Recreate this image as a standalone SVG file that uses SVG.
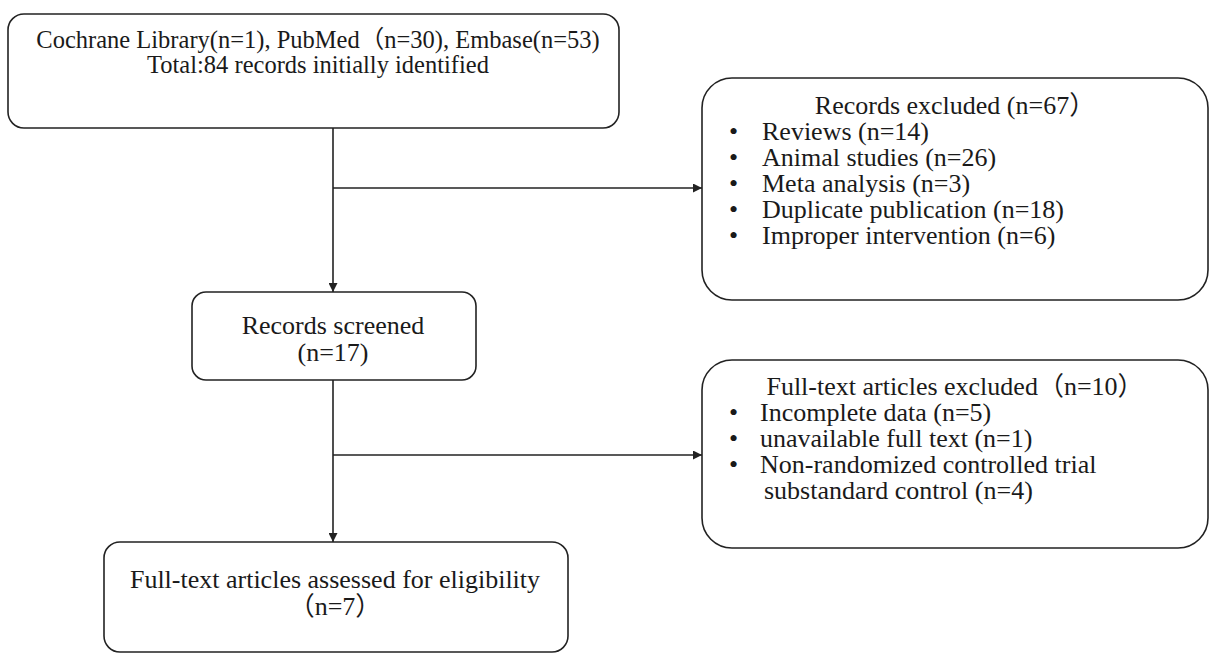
<svg xmlns="http://www.w3.org/2000/svg" width="1210" height="656" viewBox="0 0 1210 656">
<style>
.box{fill:#fff;stroke:#222;stroke-width:1.6}
.t{font-family:"Liberation Serif","Times New Roman","Noto Sans CJK SC",serif;font-size:26px;fill:#1a1a1a}
.s{font-size:24.5px}
.c{text-anchor:middle}
.ln{stroke:#222;stroke-width:1.6;fill:none}
</style>
<defs>
<marker id="ah" viewBox="0 0 10 10" refX="10" refY="5" markerWidth="10" markerHeight="9" markerUnits="userSpaceOnUse" orient="auto">
<path d="M0,0 L10,5 L0,10 Z" fill="#222"/>
</marker>
</defs>
<rect width="1210" height="656" fill="#fff"/>
<g id="connectors">
<line class="ln" x1="333" y1="128" x2="333" y2="292" marker-end="url(#ah)"/>
<line class="ln" x1="333" y1="188" x2="702" y2="188" marker-end="url(#ah)"/>
<line class="ln" x1="333" y1="380" x2="333" y2="542" marker-end="url(#ah)"/>
<line class="ln" x1="333" y1="455" x2="702" y2="455" marker-end="url(#ah)"/>
</g>
<g id="identified">
<rect class="box" x="8" y="14" width="611" height="114" rx="16"/>
<text class="t s c" x="318" y="48">Cochrane Library(n=1), PubMed（n=30), Embase(n=53)</text>
<text class="t s c" x="318" y="73">Total:84 records initially identified</text>
</g>
<g id="excluded1">
<rect class="box" x="702" y="78" width="506" height="222" rx="30"/>
<text class="t c" x="955" y="114">Records excluded (n=67）</text>
<text class="t" x="729" y="140">•</text><text class="t" x="762" y="140">Reviews (n=14)</text>
<text class="t" x="729" y="166">•</text><text class="t" x="762" y="166">Animal studies (n=26)</text>
<text class="t" x="729" y="192">•</text><text class="t" x="762" y="192">Meta analysis (n=3)</text>
<text class="t" x="729" y="218">•</text><text class="t" x="762" y="218">Duplicate publication (n=18)</text>
<text class="t" x="729" y="244">•</text><text class="t" x="762" y="244">Improper intervention (n=6)</text>
</g>
<g id="screened">
<rect class="box" x="192" y="292" width="284" height="88" rx="14"/>
<text class="t c" x="333" y="334">Records screened</text>
<text class="t c" x="333" y="361">(n=17)</text>
</g>
<g id="excluded2">
<rect class="box" x="702" y="360" width="506" height="188" rx="30"/>
<text class="t c" x="955" y="395">Full-text articles excluded（n=10）</text>
<text class="t" x="729" y="421">•</text><text class="t" x="760" y="421">Incomplete data (n=5)</text>
<text class="t" x="729" y="447">•</text><text class="t" x="760" y="447">unavailable full text (n=1)</text>
<text class="t" x="729" y="473">•</text><text class="t" x="760" y="473">Non-randomized controlled trial</text>
<text class="t" x="764" y="499">substandard control (n=4)</text>
</g>
<g id="assessed">
<rect class="box" x="104" y="542" width="464" height="110" rx="16"/>
<text class="t c" x="335" y="588">Full-text articles assessed for eligibility</text>
<text class="t c" x="335" y="615">（n=7）</text>
</g>
</svg>
